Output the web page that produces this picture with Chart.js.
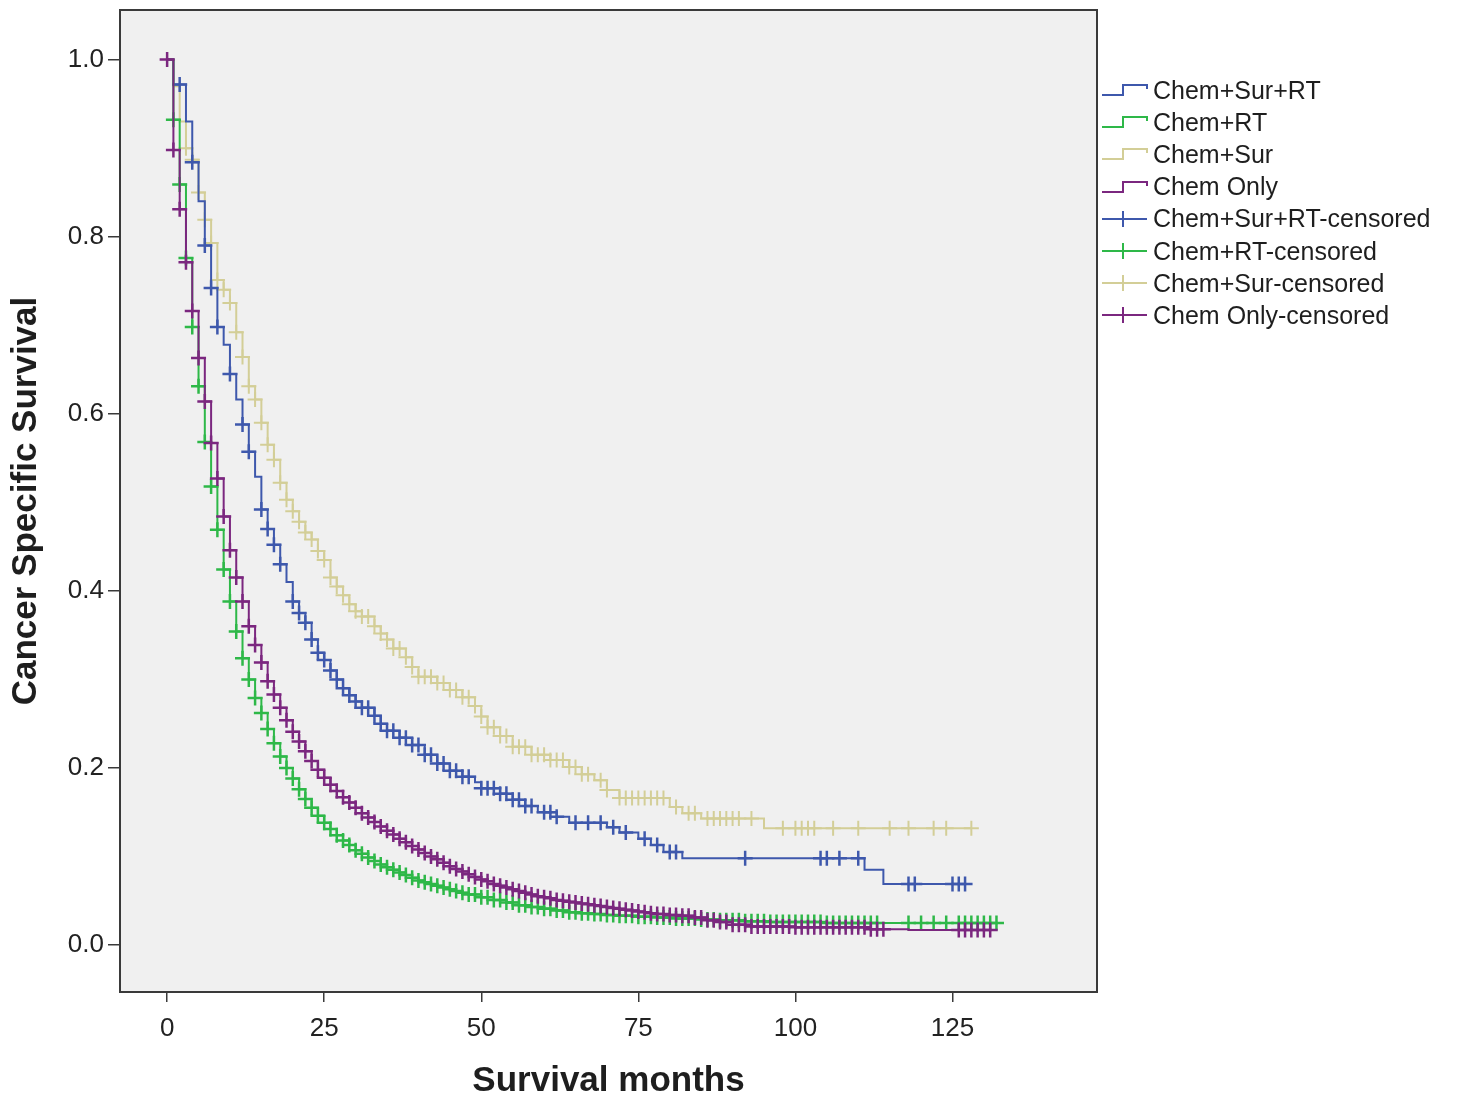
<!DOCTYPE html>
<html>
<head>
<meta charset="utf-8">
<script src="https://cdn.jsdelivr.net/npm/chart.js"></script>
<style>
    html, body {
        margin: 0;
        padding: 0;
        background: #fff;
    }
    #wrap {
        position: relative;
        width: 1458px;
        height: 1099px;
    }
    #legend {
        position: absolute;
        left: 1102px;
        top: 74px;
        font-family: "Liberation Sans", Arial, sans-serif;
        font-size: 25px;
        color: #1e1e1e;
    }
    .row {
        height: 32.2px;
        display: flex;
        align-items: center;
        white-space: nowrap;
    }
    .row svg {
        width: 51px;
        height: 32px;
        flex: none;
    }
</style>
</head>
<body>
<div id="wrap">
    <canvas id="km" width="1458" height="1099"></canvas>
    <div id="legend"></div>
</div>

<script>
    // survival steps (time in months, survival after the drop)
    const chemSurRtT = [0,1,3,4,5,6,7,8,9,10,11,12,13,14,15,16,17,18,19,20,21,22,23,24,25,26,27,28,29,30,31,33,34,35,37,39,41,43,45,47,49,50,53,55,57,59,62,64,70,72,75,77,79,82,111,114,128];
    const chemSurRtS = [1,0.972,0.93,0.884,0.84,0.79,0.742,0.698,0.678,0.645,0.616,0.588,0.557,0.529,0.492,0.47,0.452,0.43,0.41,0.388,0.375,0.364,0.345,0.33,0.322,0.31,0.3,0.29,0.282,0.275,0.268,0.259,0.25,0.242,0.234,0.226,0.215,0.205,0.197,0.19,0.184,0.177,0.171,0.164,0.157,0.15,0.145,0.138,0.133,0.127,0.12,0.113,0.105,0.098,0.085,0.069,0.069];
    const chemSurRtCens = [2,4,6,7,8,10,12,13,15,16,17,18,20,21,22,23,24,25,26,27,28,29,30,31,32,33,34,35,36,37,38,39,40,41,42,43,44,45,46,47,48,50,51,52,53,54,55,56,57,58,60,61,62,65,67,69,71,73,76,78,80,81,92,104,105,107,110,118,119,125,126,127];

    const chemRtT = [0,1,2,3,4,5,6,7,8,9,10,11,12,13,14,15,16,17,18,19,20,21,22,23,24,25,26,27,28,29,30,31,32,33,34,35,36,37,38,39,40,41,42,43,44,45,46,47,48,50,52,54,56,58,60,62,64,66,68,70,72,75,78,81,85,88,92,96,105,132];
    const chemRtS = [1,0.932,0.859,0.776,0.698,0.631,0.568,0.518,0.469,0.424,0.388,0.354,0.324,0.3,0.279,0.262,0.244,0.228,0.213,0.2,0.188,0.176,0.165,0.155,0.146,0.138,0.131,0.124,0.118,0.113,0.107,0.103,0.099,0.095,0.091,0.088,0.085,0.082,0.079,0.076,0.073,0.071,0.069,0.067,0.065,0.063,0.061,0.059,0.057,0.054,0.051,0.048,0.045,0.043,0.041,0.039,0.037,0.036,0.035,0.034,0.033,0.032,0.031,0.03,0.029,0.028,0.027,0.026,0.025,0.025];
    const chemRtCens = [1,2,3,4,5,6,7,8,9,10,11,12,13,14,15,16,17,18,19,20,21,22,23,24,25,26,27,28,29,30,31,32,33,34,35,36,37,38,39,40,41,42,43,44,45,46,47,48,49,50,51,52,53,54,55,56,57,58,59,60,61,62,63,64,65,66,67,68,69,70,71,72,73,74,75,76,77,78,79,80,81,82,83,84,85,86,87,88,89,90,91,92,93,94,95,96,97,98,99,100,101,102,103,104,105,106,107,108,109,110,111,112,113,118,120,122,124,126,127,128,129,130,131,132];

    const chemSurT = [0,1,2,3,4,5,6,7,8,9,10,11,12,13,14,15,16,17,18,19,20,21,22,23,24,25,26,27,28,29,30,31,33,34,35,36,38,39,40,43,45,47,49,50,51,53,55,58,61,64,66,68,70,72,80,82,85,95,128];
    const chemSurS = [1,0.97,0.93,0.9,0.887,0.85,0.819,0.793,0.751,0.74,0.725,0.692,0.664,0.631,0.616,0.59,0.565,0.548,0.522,0.503,0.49,0.478,0.466,0.458,0.445,0.435,0.415,0.405,0.395,0.385,0.377,0.371,0.36,0.352,0.345,0.335,0.325,0.314,0.303,0.296,0.288,0.28,0.27,0.258,0.246,0.236,0.224,0.215,0.209,0.201,0.193,0.186,0.175,0.166,0.156,0.149,0.143,0.132,0.132];
    const chemSurCens = [3,4,5,6,7,8,9,10,11,12,13,14,15,16,17,18,19,20,21,22,23,24,25,26,27,28,29,30,31,32,33,34,35,36,37,38,39,40,41,42,43,44,45,46,47,48,49,50,51,52,53,54,55,56,57,58,59,60,61,62,63,64,65,66,67,69,70,72,73,74,75,76,77,78,79,81,83,84,86,87,88,89,90,91,93,98,100,101,102,103,106,110,115,118,122,124,128];

    const chemOnlyT = [0,1,2,3,4,5,6,7,8,9,10,11,12,13,14,15,16,17,18,19,20,21,22,23,24,25,26,27,28,29,30,31,32,33,34,35,36,37,38,39,40,41,42,43,44,45,46,47,48,49,50,51,52,53,54,55,56,57,58,59,60,61,62,63,64,65,66,67,68,69,70,71,72,73,74,75,76,77,78,80,82,84,86,88,90,93,100,112,118,131];
    const chemOnlyS = [1,0.898,0.831,0.771,0.716,0.663,0.614,0.567,0.527,0.484,0.446,0.415,0.388,0.36,0.339,0.319,0.298,0.283,0.268,0.254,0.241,0.23,0.219,0.208,0.198,0.189,0.181,0.174,0.167,0.161,0.155,0.149,0.144,0.139,0.134,0.129,0.125,0.12,0.116,0.112,0.108,0.104,0.1,0.097,0.093,0.089,0.086,0.083,0.08,0.077,0.074,0.072,0.069,0.067,0.065,0.063,0.061,0.059,0.057,0.055,0.054,0.053,0.051,0.05,0.049,0.048,0.047,0.046,0.045,0.044,0.043,0.042,0.041,0.04,0.039,0.038,0.037,0.036,0.035,0.034,0.033,0.031,0.028,0.026,0.023,0.021,0.02,0.018,0.017,0.017];
    const chemOnlyCens = [0,1,2,3,4,5,6,7,8,9,10,11,12,13,14,15,16,17,18,19,20,21,22,23,24,25,26,27,28,29,30,31,32,33,34,35,36,37,38,39,40,41,42,43,44,45,46,47,48,49,50,51,52,53,54,55,56,57,58,59,60,61,62,63,64,65,66,67,68,69,70,71,72,73,74,75,76,77,78,79,80,81,82,83,84,85,86,87,88,89,90,91,92,93,94,95,96,97,98,99,100,101,102,103,104,105,106,107,108,109,110,111,112,113,114,126,127,128,129,130,131];

    const groups = ['Chem+Sur+RT', 'Chem+RT', 'Chem+Sur', 'Chem Only'];
    const colors = ['#3e58ac', '#2eb848', '#d3ce97', '#7b277f'];
    const xTicks = [0, 25, 50, 75, 100, 125];
    const yTicks = [0, 0.2, 0.4, 0.6, 0.8, 1.0];

    const curves = [
        { t: chemSurRtT, s: chemSurRtS, c: chemSurRtCens },
        { t: chemRtT, s: chemRtS, c: chemRtCens },
        { t: chemSurT, s: chemSurS, c: chemSurCens },
        { t: chemOnlyT, s: chemOnlyS, c: chemOnlyCens }
    ];

    // survival value at a time (step function)
    function survAt(curve, time) {
        let v = curve.s[0];
        for (let i = 0; i < curve.t.length; i++) {
            if (curve.t[i] <= time) v = curve.s[i];
        }
        return v;
    }

    // first dataset is drawn on top, so list Chem Only first
    const drawOrder = [3, 1, 0, 2];
    const datasets = [];
    drawOrder.forEach(g => {
        const cv = curves[g];
        datasets.push({
            label: groups[g] + '-censored',
            data: cv.c.map(t => ({ x: t, y: survAt(cv, t) })),
            showLine: false,
            pointStyle: 'cross',
            pointRadius: 7.5,
            pointBorderWidth: g === 2 ? 2 : 2.5,
            borderColor: colors[g],
            backgroundColor: colors[g]
        });
        datasets.push({
            label: groups[g],
            data: cv.t.map((t, i) => ({ x: t, y: cv.s[i] })),
            showLine: true,
            stepped: true,
            pointRadius: 0,
            borderWidth: 2,
            borderColor: colors[g],
            fill: false
        });
    });

    const frame = {
        id: 'frame',
        beforeDraw(chart) {
            const { ctx, chartArea: a } = chart;
            ctx.save();
            ctx.fillStyle = '#f0f0f0';
            ctx.fillRect(a.left, a.top, a.right - a.left, a.bottom - a.top);
            ctx.restore();
        },
        afterDraw(chart) {
            const { ctx, chartArea: a } = chart;
            ctx.save();
            ctx.strokeStyle = '#3a3a3a';
            ctx.lineWidth = 2;
            ctx.strokeRect(a.left, a.top, a.right - a.left, a.bottom - a.top);
            ctx.restore();
        }
    };

    const tickFont = { family: '"Liberation Sans", Arial, sans-serif', size: 26 };
    const titleFont = { family: '"Liberation Sans", Arial, sans-serif', size: 35, weight: 'bold', lineHeight: 1 };

    new Chart(document.getElementById('km'), {
        type: 'scatter',
        data: { datasets: datasets },
        options: {
            responsive: false,
            animation: false,
            devicePixelRatio: 1,
            layout: { padding: { left: 0, top: 10, right: 361, bottom: 0 } },
            plugins: {
                legend: { display: false },
                tooltip: { enabled: false }
            },
            scales: {
                x: {
                    type: 'linear',
                    min: -7.5,
                    max: 148,
                    afterFit: s => { s.height = 107; s.paddingLeft = 0; s.paddingRight = 0; },
                    afterBuildTicks: s => { s.ticks = xTicks.map(v => ({ value: v })); },
                    border: { display: false },
                    grid: { drawOnChartArea: false, drawTicks: true, tickLength: 10, color: '#3a3a3a', lineWidth: 1.5 },
                    ticks: { font: tickFont, color: '#222', padding: 11, maxRotation: 0, callback: v => String(v) },
                    title: { display: true, text: 'Survival months', font: titleFont, color: '#1e1e1e', padding: { top: 0, bottom: 0 } }
                },
                y: {
                    type: 'linear',
                    min: -0.053,
                    max: 1.056,
                    afterFit: s => { s.width = 120; s.paddingTop = 0; s.paddingBottom = 0; },
                    afterBuildTicks: s => { s.ticks = yTicks.map(v => ({ value: v })); },
                    border: { display: false },
                    grid: { drawOnChartArea: false, drawTicks: true, tickLength: 12, color: '#3a3a3a', lineWidth: 1.5 },
                    ticks: { font: tickFont, color: '#222', padding: 4, callback: v => v.toFixed(1) },
                    title: { display: true, text: 'Cancer Specific Survival', font: titleFont, color: '#1e1e1e', padding: { top: 9, bottom: 0 } }
                }
            }
        },
        plugins: [frame]
    });

    // legend: line keys first, then censored keys
    const legend = document.getElementById('legend');
    const stepIcon = c => `<svg viewBox="0 0 51 32"><polyline points="0,21 21,21 21,11 45,11 45,15" fill="none" stroke="${c}" stroke-width="2"/></svg>`;
    const crossIcon = c => `<svg viewBox="0 0 51 32"><line x1="0" y1="16" x2="45" y2="16" stroke="${c}" stroke-width="2"/><line x1="21" y1="8" x2="21" y2="24" stroke="${c}" stroke-width="2"/></svg>`;
    groups.forEach((g, i) => {
        const row = document.createElement('div');
        row.className = 'row';
        row.innerHTML = stepIcon(colors[i]) + '<span>' + g + '</span>';
        legend.appendChild(row);
    });
    groups.forEach((g, i) => {
        const row = document.createElement('div');
        row.className = 'row';
        row.innerHTML = crossIcon(colors[i]) + '<span>' + g + '-censored</span>';
        legend.appendChild(row);
    });
</script>
</body>
</html>
